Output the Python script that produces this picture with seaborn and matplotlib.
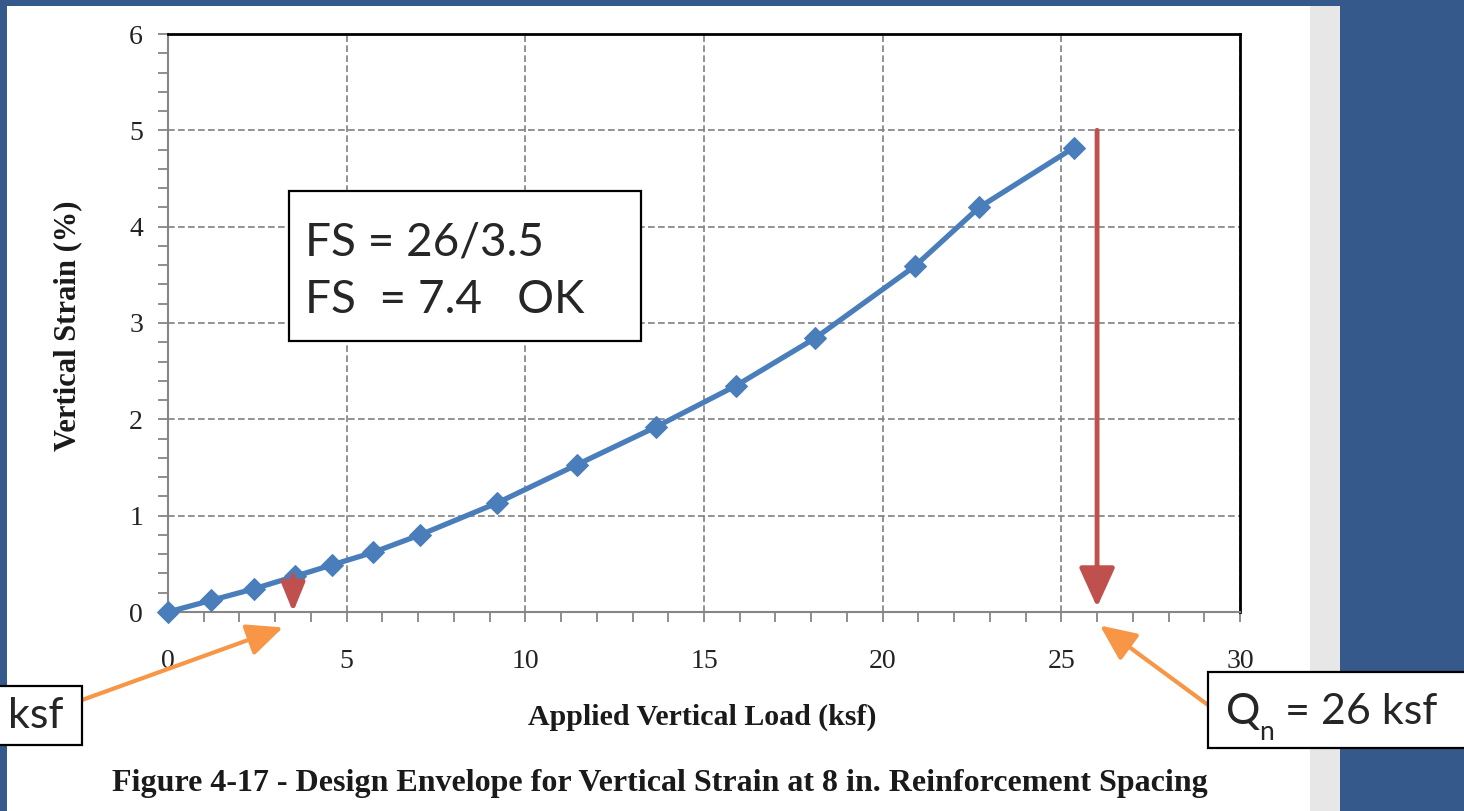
import matplotlib
matplotlib.use("Agg")
import matplotlib.pyplot as plt
import seaborn as sns
import pandas as pd
from matplotlib.patches import Rectangle
from matplotlib.ticker import MultipleLocator

# data
load_ksf = [0, 1.2, 2.4, 3.55, 4.6, 5.75, 7.05, 9.2, 11.45, 13.65, 15.9, 18.1, 20.9, 22.7, 25.35]
strain_pct = [0, 0.12, 0.24, 0.37, 0.49, 0.62, 0.80, 1.13, 1.53, 1.92, 2.35, 2.84, 3.59, 4.2, 4.82]
x_ticks = [0, 5, 10, 15, 20, 25, 30]
y_ticks = [0, 1, 2, 3, 4, 5, 6]
qn_ksf = 26
design_ksf = 3.5

df = pd.DataFrame({"load": load_ksf, "strain": strain_pct})

sns.set_style("white")
plt.rcParams["font.family"] = ["Liberation Serif", "DejaVu Serif"]

W, H = 1464, 811
fig = plt.figure(figsize=(W / 100, H / 100), dpi=100)
fig.patch.set_facecolor("#35598a")


def fx(px):
    return px / W


def fy(py):
    return 1 - py / H


# slide panels
fig.patches.append(Rectangle((fx(7), 0), fx(1310) - fx(7), fy(6), transform=fig.transFigure,
                             facecolor="white", edgecolor="none", zorder=0))
fig.patches.append(Rectangle((fx(1310), 0), fx(30), fy(6), transform=fig.transFigure,
                             facecolor="#e7e7e7", edgecolor="none", zorder=0))

ax = fig.add_axes([fx(168), fy(612), fx(1240) - fx(168), fy(34) - fy(612)])
ax.set_zorder(2)
ax.set_facecolor("white")

sns.lineplot(data=df, x="load", y="strain", ax=ax, color="#4a7ebb", linewidth=3.8,
             marker="D", markersize=11, markeredgecolor="#4a7ebb", zorder=5, clip_on=False)

ax.set_xlim(0, 30)
ax.set_ylim(0, 6)
ax.set_xticks(x_ticks)
ax.set_yticks(y_ticks)
ax.xaxis.set_minor_locator(MultipleLocator(1))
ax.yaxis.set_minor_locator(MultipleLocator(0.2))
ax.tick_params(axis="both", which="both", direction="out", length=7, width=1.3, color="#868686",
               labelsize=20, labelcolor="#222222", bottom=True, left=True)
ax.tick_params(axis="x", which="major", pad=20)
ax.tick_params(axis="y", which="major", pad=11)
ax.grid(True, which="major", color="#808080", linestyle=(0, (4, 2)), linewidth=1.2)
for side in ["left", "bottom"]:
    ax.spines[side].set_color("#868686")
    ax.spines[side].set_linewidth(1.5)
for side in ["top", "right"]:
    ax.spines[side].set_color("black")
    ax.spines[side].set_linewidth(2)

ax.set_xlabel("")
ax.set_ylabel("")
fig.text(fx(702), fy(717), "Applied Vertical Load (ksf)", ha="center", va="center",
         fontsize=21.5, fontweight="bold", color="#1a1a1a")
fig.text(fx(68), fy(326), "Vertical Strain (%)", ha="center", va="center", rotation=90,
         fontsize=22, fontweight="bold", color="#1a1a1a")
fig.text(fx(660), fy(784), "Figure 4-17 - Design Envelope for Vertical Strain at 8 in. Reinforcement Spacing",
         ha="center", va="center", fontsize=23, fontweight="bold", color="#1a1a1a")

# red arrows
red = "#c0504d"
ax.annotate("", xy=(qn_ksf, 0.05), xytext=(qn_ksf, 5.0),
            arrowprops=dict(arrowstyle="-|>,head_length=1.1,head_width=0.5", color=red, lw=3.5,
                            mutation_scale=22, shrinkA=0, shrinkB=0), zorder=6)
ax.annotate("", xy=(design_ksf, 0.0), xytext=(design_ksf, 0.38),
            arrowprops=dict(arrowstyle="-|>,head_length=1.1,head_width=0.45", color=red, lw=3.5,
                            mutation_scale=16, shrinkA=0, shrinkB=0), zorder=6)

# orange arrows
orange = "#f79646"
ax.annotate("", xy=(3.22, -0.16), xytext=(82, H - 700), textcoords="figure pixels",
            arrowprops=dict(arrowstyle="-|>,head_length=1.0,head_width=0.45", color=orange, lw=3,
                            mutation_scale=22, shrinkA=0, shrinkB=0), annotation_clip=False)
ax.annotate("", xy=(26.08, -0.14), xytext=(1208, H - 705), textcoords="figure pixels",
            arrowprops=dict(arrowstyle="-|>,head_length=1.0,head_width=0.45", color=orange, lw=3,
                            mutation_scale=22, shrinkA=0, shrinkB=0), annotation_clip=False)

# text boxes
box_font = ["Lato", "DejaVu Sans"]
fig.patches.append(Rectangle((fx(289), fy(341)), fx(641) - fx(289), fy(191) - fy(341),
                             transform=fig.transFigure, facecolor="white", edgecolor="black",
                             linewidth=1.6, zorder=10))
fig.text(fx(305), fy(243), "FS = 26/3.5", ha="left", va="center", fontsize=33, family=box_font, zorder=11)
fig.text(fx(305), fy(300), "FS  = 7.4   OK", ha="left", va="center", fontsize=33, family=box_font, zorder=11)

fig.patches.append(Rectangle((fx(-10), fy(745)), fx(82) - fx(-10), fy(686) - fy(745),
                             transform=fig.transFigure, facecolor="white", edgecolor="black",
                             linewidth=1.6, zorder=10))
fig.text(fx(8), fy(716), "ksf", ha="left", va="center", fontsize=31, family=box_font, zorder=11)

fig.patches.append(Rectangle((fx(1208), fy(748)), fx(1480) - fx(1208), fy(672) - fy(748),
                             transform=fig.transFigure, facecolor="white", edgecolor="black",
                             linewidth=1.6, zorder=10))
fig.text(fx(1226), fy(712), "Q", ha="left", va="center", fontsize=31, family=box_font, zorder=11)
fig.text(fx(1259), fy(733), "n", ha="left", va="center", fontsize=19, family=box_font, zorder=11)
fig.text(fx(1285), fy(712), "= 26 ksf", ha="left", va="center", fontsize=31, family=box_font, zorder=11)

plt.savefig("out.png", dpi=100, facecolor=fig.get_facecolor())
